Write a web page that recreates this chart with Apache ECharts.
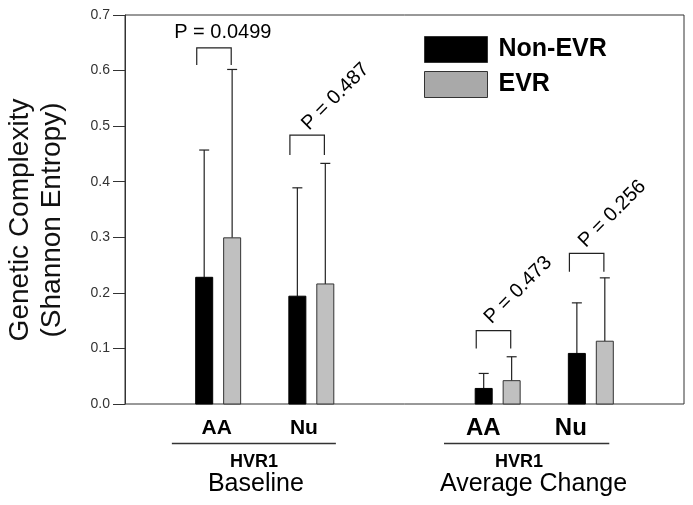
<!DOCTYPE html>
<html>
<head>
<meta charset="utf-8">
<script src="https://cdn.jsdelivr.net/npm/echarts@6/dist/echarts.min.js"></script>
<style>html,body{margin:0;padding:0;background:#fff}#c{width:693px;height:505px}</style>
</head>
<body>
<div id="c"></div>
<script>
// ---- data ----
const groupX = [2, 4, 8, 10];              // group centres on the hidden x scale
const groupNames = ['AA', 'Nu', 'AA', 'Nu'];
const nonEvrMean = [0.228, 0.194, 0.028, 0.091];
const nonEvrSD   = [0.229, 0.195, 0.027, 0.091];
const evrMean    = [0.299, 0.216, 0.042, 0.113];
const evrSD      = [0.303, 0.217, 0.043, 0.114];
const pTexts     = ['P = 0.0499', 'P = 0.487', 'P = 0.473', 'P = 0.256'];
const bracketTop = [0.641, 0.484, 0.132, 0.271];
const bracketLeg = [0.610, 0.448, 0.100, 0.238];
const pLabelX    = [2.10, 4.52, 8.44, 10.46];
const pLabelY    = [0.668, 0.553, 0.205, 0.342];
const pLabelRot  = [0, 45, 45, 45];
const yTicks     = ['0.0','0.1','0.2','0.3','0.4','0.5','0.6','0.7'];
const catLabelX  = [1.97, 3.84, 7.69, 9.57];
const sections   = [
  { name: 'HVR1', sub: 'Baseline', x: 2.77, subX: 2.81, lineFrom: 1.006, lineTo: 4.527 },
  { name: 'HVR1', sub: 'Average Change', x: 8.46, subX: 8.77, lineFrom: 6.848, lineTo: 10.396 }
];

const FONT = '"Liberation Sans", Arial, Helvetica, sans-serif';
const OFFSET = 0.3, BARW = 17, CAPW = 10;

function barData(means, sds, off) {
  return groupX.map((g, i) => [g + off, means[i], sds[i]]);
}
function barRender(fill, stroke) {
  return function (params, api) {
    const x = api.value(0), v = api.value(1), sd = api.value(2);
    const base = api.coord([x, 0]);
    const top = api.coord([x, v]);
    const eTop = api.coord([x, v + sd]);
    return {
      type: 'group',
      children: [
        { type: 'line', shape: { x1: top[0], y1: top[1], x2: eTop[0], y2: eTop[1] },
          style: { stroke: '#222', lineWidth: 1.2 } },
        { type: 'line', shape: { x1: eTop[0] - CAPW / 2, y1: eTop[1], x2: eTop[0] + CAPW / 2, y2: eTop[1] },
          style: { stroke: '#222', lineWidth: 1.2 } },
        { type: 'rect', shape: { x: top[0] - BARW / 2, y: top[1], width: BARW, height: base[1] - top[1] },
          style: { fill: fill, stroke: stroke, lineWidth: 1 } }
      ]
    };
  };
}

const chart = echarts.init(document.getElementById('c'), null, { renderer: 'canvas' });
const option = {
  animation: false,
  backgroundColor: '#fff',
  grid: { left: 125, top: 15, right: 9, bottom: 101, show: true, borderColor: '#333', borderWidth: 1, backgroundColor: 'transparent' },
  legend: {
    orient: 'vertical', left: 424, top: 36, padding: 0,
    itemWidth: 63, itemHeight: 26, itemGap: 8, selectedMode: false,
    textStyle: { fontSize: 25, fontWeight: 'bold', color: '#000', fontFamily: FONT, padding: [0, 0, 0, 6] },
    data: [
      { name: 'Non-EVR', icon: 'rect', itemStyle: { color: '#000', borderColor: '#333', borderWidth: 1 } },
      { name: 'EVR', icon: 'rect', itemStyle: { color: '#a9a9a9', borderColor: '#333', borderWidth: 1 } }
    ]
  },
  xAxis: { type: 'value', min: 0, max: 12, show: false },
  yAxis: {
    type: 'value', min: 0, max: 0.7, interval: 0.1,
    axisLine: { show: true, lineStyle: { color: '#333', width: 1 } },
    axisTick: { show: true, inside: false, length: 12, lineStyle: { color: '#333' } },
    splitLine: { show: false },
    axisLabel: { margin: 15, fontSize: 14, color: '#333', fontFamily: FONT,
      formatter: (v) => yTicks[Math.round(v * 10)] }
  },
  series: [
    { name: 'Non-EVR', type: 'custom', data: barData(nonEvrMean, nonEvrSD, -OFFSET),
      encode: { x: 0, y: 1 }, itemStyle: { color: '#000' }, renderItem: barRender('#000', '#000') },
    { name: 'EVR', type: 'custom', data: barData(evrMean, evrSD, OFFSET),
      encode: { x: 0, y: 1 }, itemStyle: { color: '#c0c0c0' }, renderItem: barRender('#c0c0c0', '#333') },
    { name: 'brackets', type: 'custom', data: groupX.map((g, i) => [g, bracketTop[i], bracketLeg[i]]),
      encode: { x: 0, y: 1 },
      renderItem: function (params, api) {
        const g = api.value(0);
        const l = api.coord([g - 0.46, api.value(1)]);
        const r = api.coord([g + 0.28, api.value(1)]);
        const lb = api.coord([g, api.value(2)]);
        return { type: 'polyline',
          shape: { points: [[l[0], lb[1]], [l[0], l[1]], [r[0], r[1]], [r[0], lb[1]]] },
          style: { stroke: '#222', lineWidth: 1.2, fill: null } };
      } },
    { name: 'pvalues', type: 'custom', data: pLabelX.map((x, i) => [x, pLabelY[i], pLabelRot[i], i]),
      encode: { x: 0, y: 1 },
      renderItem: function (params, api) {
        const p = api.coord([api.value(0), api.value(1)]);
        return { type: 'text', x: p[0], y: p[1], rotation: api.value(2) * Math.PI / 180,
          style: { text: pTexts[api.value(3)], fill: '#000', fontSize: 20, fontFamily: FONT,
            align: 'center', verticalAlign: 'middle' } };
      } }
  ]
};
chart.setOption(option);

// ---- bottom labels and y-axis title ----
const px = (v) => chart.convertToPixel({ xAxisIndex: 0 }, v);
const graphics = [];
catLabelX.forEach((x, i) => {
  const big = i >= 2;
  graphics.push({ type: 'text', x: px(x), y: 428,
    style: { text: groupNames[i], fontSize: big ? 24 : 21, fontWeight: 'bold', fill: '#000', fontFamily: FONT,
      align: 'center', verticalAlign: 'middle' } });
});
sections.forEach((s) => {
  graphics.push({ type: 'line', shape: { x1: px(s.lineFrom), y1: 443.5, x2: px(s.lineTo), y2: 443.5 },
    style: { stroke: '#333', lineWidth: 1.5 } });
  graphics.push({ type: 'text', x: px(s.x), y: 462,
    style: { text: s.name, fontSize: 18, fontWeight: 'bold', fill: '#000', fontFamily: FONT, align: 'center', verticalAlign: 'middle' } });
  graphics.push({ type: 'text', x: px(s.subX), y: 484,
    style: { text: s.sub, fontSize: 25, fill: '#000', fontFamily: FONT, align: 'center', verticalAlign: 'middle' } });
});
graphics.push({ type: 'text', x: 36, y: 220, rotation: Math.PI / 2,
  style: { text: 'Genetic Complexity\n(Shannon Entropy)', fontSize: 28, lineHeight: 32, fill: '#111', fontFamily: FONT,
    align: 'center', verticalAlign: 'middle' } });
chart.setOption({ graphic: graphics });
</script>
</body>
</html>
